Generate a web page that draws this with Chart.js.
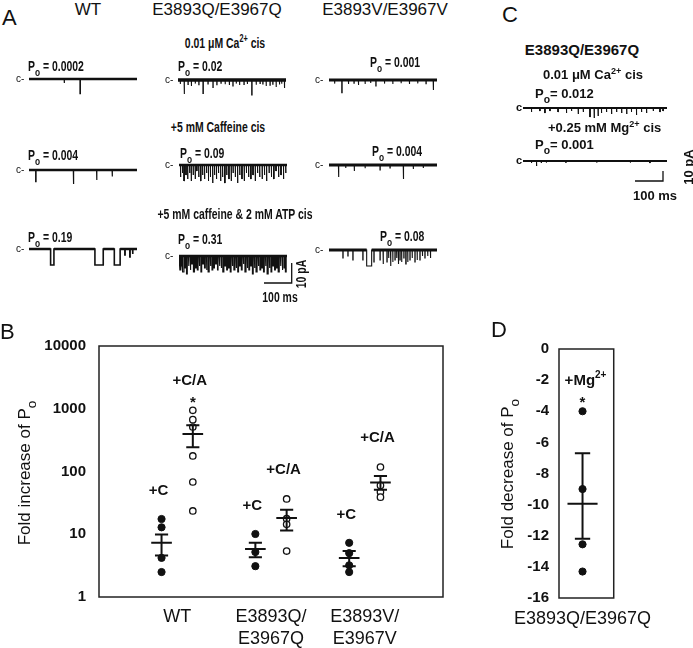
<!DOCTYPE html>
<html>
<head>
<meta charset="utf-8">
<script src="https://cdn.jsdelivr.net/npm/chart.js@4.4.0/dist/chart.umd.min.js"></script>
<style>
body { margin: 0; background: #fff; }
#page { position: relative; width: 693px; height: 648px; overflow: hidden; font-family: "Liberation Sans", Arial, sans-serif; color: #111; }
.t { position: absolute; line-height: 1; white-space: nowrap; }
.c { transform: translateX(-50%); }
.nb { font-weight: bold; font-size: 14.5px; transform: scaleX(0.72); transform-origin: 0 0; }
.nb.c { transform: translateX(-50%) scaleX(0.72); transform-origin: 50% 0; }
.nb.rot { transform: translate(-50%, -50%) rotate(-90deg) scaleX(0.72); transform-origin: 50% 50%; }
.hd { font-size: 17px; }
.let { font-size: 22px; }
.cb { font-weight: bold; font-size: 13px; }
.sm { font-size: 10px; }
sub { font-size: 0.8em; vertical-align: -0.45em; line-height: 0; }
sup { font-size: 0.7em; vertical-align: 0.55em; line-height: 0; }
.rot { transform: translate(-50%, -50%) rotate(-90deg); }
canvas { position: absolute; }
</style>
</head>
<body>
<div id="page">
  <!-- panel A traces -->
  <canvas id="wtCa" width="108" height="34" style="left:29px;top:71px"></canvas>
  <canvas id="wtCaf" width="108" height="34" style="left:29px;top:162px"></canvas>
  <canvas id="wtAtp" width="108" height="34" style="left:29px;top:241px"></canvas>
  <canvas id="qCa" width="108" height="34" style="left:178px;top:72px"></canvas>
  <canvas id="qCaf" width="108" height="34" style="left:179px;top:157px"></canvas>
  <canvas id="qAtp" width="108" height="34" style="left:179px;top:248px"></canvas>
  <canvas id="vCa" width="108" height="34" style="left:329px;top:72px"></canvas>
  <canvas id="vCaf" width="108" height="34" style="left:329px;top:157px"></canvas>
  <canvas id="vAtp" width="108" height="34" style="left:329px;top:242px"></canvas>
  <canvas id="barA" width="30" height="36" style="left:264px;top:255px"></canvas>
  <!-- panel C traces -->
  <canvas id="cCa" width="144" height="24" style="left:523px;top:101px"></canvas>
  <canvas id="cMg" width="144" height="24" style="left:523px;top:154px"></canvas>
  <canvas id="barC" width="32" height="16" style="left:635px;top:168px"></canvas>
  <!-- panels B and D -->
  <canvas id="chartB" width="480" height="348" style="left:0px;top:300px"></canvas>
  <canvas id="chartD" width="213" height="348" style="left:480px;top:300px"></canvas>

  <div class="t let" style="left:2px;top:7px">A</div>
  <div class="t hd c" style="left:88px;top:1px">WT</div>
  <div class="t hd c" style="left:217px;top:1px">E3893Q/E3967Q</div>
  <div class="t hd c" style="left:385px;top:1px">E3893V/E3967V</div>
  <div class="t nb c" style="left:225px;top:36px">0.01 μM Ca<sup>2+</sup> cis</div>
  <div class="t nb c" style="left:218px;top:120px">+5 mM Caffeine cis</div>
  <div class="t nb c" style="left:235px;top:207px">+5 mM caffeine &amp; 2 mM ATP cis</div>

  <div class="t nb" style="left:28px;top:59px">P<sub>o</sub> = 0.0002</div>
  <div class="t nb" style="left:178px;top:59px">P<sub>o</sub> = 0.02</div>
  <div class="t nb" style="left:370px;top:55px">P<sub>o</sub> = 0.001</div>
  <div class="t nb" style="left:28px;top:148px">P<sub>o</sub> = 0.004</div>
  <div class="t nb" style="left:180px;top:146px">P<sub>o</sub> = 0.09</div>
  <div class="t nb" style="left:372px;top:144px">P<sub>o</sub> = 0.004</div>
  <div class="t nb" style="left:28px;top:230px">P<sub>o</sub> = 0.19</div>
  <div class="t nb" style="left:178px;top:232px">P<sub>o</sub> = 0.31</div>
  <div class="t nb" style="left:380px;top:229px">P<sub>o</sub> = 0.08</div>

  <div class="t sm" style="left:16px;top:74px">c-</div>
  <div class="t sm" style="left:165px;top:75px">c-</div>
  <div class="t sm" style="left:315px;top:75px">c-</div>
  <div class="t sm" style="left:16px;top:165px">c-</div>
  <div class="t sm" style="left:165px;top:160px">c-</div>
  <div class="t sm" style="left:315px;top:160px">c-</div>
  <div class="t sm" style="left:16px;top:244px">c-</div>
  <div class="t sm" style="left:165px;top:251px">c-</div>
  <div class="t sm" style="left:315px;top:245px">c-</div>

  <div class="t nb rot" style="left:301px;top:274px">10 pA</div>
  <div class="t nb c" style="left:280px;top:290px">100 ms</div>

  <div class="t let" style="left:502px;top:4px">C</div>
  <div class="t cb c" style="left:582px;top:42px;font-size:15px">E3893Q/E3967Q</div>
  <div class="t cb" style="left:543px;top:68px">0.01 μM Ca<sup>2+</sup> cis</div>
  <div class="t cb" style="left:535px;top:87px">P<sub>o</sub>= 0.012</div>
  <div class="t cb" style="left:516px;top:102px;font-size:11px">c</div>
  <div class="t cb" style="left:548px;top:121px">+0.25 mM Mg<sup>2+</sup> cis</div>
  <div class="t cb" style="left:535px;top:138px">P<sub>o</sub>= 0.001</div>
  <div class="t cb" style="left:516px;top:155px;font-size:11px">c</div>
  <div class="t cb rot" style="left:688px;top:167px;font-size:13px">10 pA</div>
  <div class="t cb" style="left:633px;top:189px">100 ms</div>

  <div class="t let" style="left:0px;top:321px">B</div>
  <div class="t rot" style="left:24px;top:473px;font-size:17px">Fold increase of P<sub>o</sub></div>
  <div class="t let" style="left:491px;top:319px">D</div>
  <div class="t rot" style="left:507px;top:474px;font-size:17px">Fold decrease of P<sub>o</sub></div>
</div>
<script>
Chart.defaults.font.family = "'Liberation Sans', Arial, sans-serif";
Chart.defaults.color = '#111';

// single channel openings: [start ms, duration ms, depth pA]
const wtCaEvents = [[127, 1, 2], [184, 1.5, 7.3]];
const wtCafEvents = [[24, 1.5, 5.8], [160, 1.5, 7], [244, 1.2, 5], [300, 1.2, 3.3]];
const wtAtpEvents = [[78, 12, 8], [238, 30, 8], [308, 21, 8], [346, 1, 3], [364, 1, 4], [374, 1, 2.5]];

const qCaEvents = [[8, 1, 2], [22, 1.5, 7], [36, 1, 2.2], [48, 1, 3], [62, 1, 1.8], [75, 1, 2.4], [90, 1.5, 6.7],
  [108, 1, 2], [126, 1, 3.7], [140, 1, 2.3], [155, 1, 1.6], [170, 1, 2.1], [185, 1, 2.5], [198, 1, 3],
  [210, 1, 1.8], [222, 1, 2.5], [238, 1, 2.2], [250, 1, 2], [266, 1.5, 7.5], [282, 1, 2.4], [296, 1, 1.7],
  [306, 1, 2], [318, 1, 3], [332, 1, 2.6], [342, 1, 2.1], [354, 1, 3.5], [366, 1, 2.3], [374, 1, 1.9], [384, 1, 4]];
const qCafEvents = [[5, 1.5, 6], [12, 1, 4], [18, 1.5, 8], [25, 1, 5], [31, 1, 7], [38, 1.5, 4], [44, 1, 8],
  [51, 1, 5], [58, 1.5, 7], [64, 1, 3], [71, 1, 6], [78, 1.5, 8], [85, 1, 5], [92, 1, 7], [99, 1.5, 4],
  [106, 1, 8], [113, 1, 6], [121, 1.5, 9], [128, 1, 5], [135, 1, 7], [142, 1.5, 4], [150, 1, 8], [157, 1, 6],
  [165, 1.5, 9], [172, 1, 5], [180, 1, 7], [188, 1.5, 8], [195, 1, 4], [203, 1, 6], [211, 1.5, 9], [219, 1, 5],
  [227, 1, 7], [235, 1.5, 8], [243, 1, 4], [251, 1, 6], [259, 1.5, 7], [267, 1, 5], [275, 1, 8], [283, 1.5, 4],
  [291, 1, 6], [300, 1, 7], [308, 1.5, 5], [316, 1, 8], [325, 1, 4], [333, 1.5, 6], [342, 1, 7], [350, 1, 3],
  [359, 1.5, 6], [368, 1, 5], [377, 1, 7], [385, 1, 4]];
const qAtpEvents = [[3, 3, 7], [9, 2, 5], [14, 4, 8], [21, 2, 6], [27, 3, 9], [34, 2, 5], [40, 3, 7], [46, 2, 4],
  [52, 4, 8], [60, 2, 6], [66, 3, 7], [73, 2, 5], [79, 3, 8], [86, 2, 4], [92, 3, 6], [99, 2, 7], [105, 4, 8],
  [113, 2, 5], [119, 3, 7], [126, 2, 6], [132, 3, 4], [139, 2, 7], [145, 3, 5], [152, 2, 6], [158, 4, 8],
  [166, 2, 5], [172, 3, 7], [179, 2, 6], [185, 3, 8], [192, 2, 5], [198, 4, 7], [206, 2, 6], [212, 3, 8],
  [219, 2, 5], [225, 3, 7], [232, 2, 4], [238, 4, 8], [246, 2, 6], [252, 3, 7], [259, 2, 5], [265, 3, 9],
  [272, 2, 6], [278, 4, 8], [286, 2, 5], [292, 3, 7], [299, 2, 6], [305, 3, 8], [312, 2, 5], [318, 4, 9],
  [326, 2, 6], [332, 3, 8], [339, 2, 5], [345, 3, 7], [352, 2, 6], [358, 4, 8], [366, 2, 5], [372, 3, 7],
  [379, 2, 6], [384, 3, 8]];

const vCaEvents = [[20, 1, 1.8], [46, 1.5, 6.3], [70, 1, 2], [90, 1, 1.6], [106, 1, 2.5], [130, 1, 2],
  [150, 1, 1.5], [169, 1, 3], [200, 1, 1.8], [230, 1, 2], [260, 1, 1.6], [290, 1, 2], [320, 1, 1.7],
  [350, 1, 1.8], [376, 1.5, 5]];
const vCafEvents = [[34, 1.5, 6], [60, 1, 1.5], [91, 1, 3], [130, 1, 1.6], [184, 1, 2.5], [220, 1, 1.5],
  [268, 1.5, 7], [304, 1, 2], [340, 1, 1.5]];
const vAtpEvents = [[50, 1, 4], [68, 1, 3], [86, 1, 5], [122, 1, 5], [136, 18, 8], [162, 1, 6], [184, 1, 5],
  [195, 1.5, 7], [209, 1, 6], [215, 1, 4], [222, 1.5, 8], [230, 1, 6], [238, 1, 5], [244, 1, 4], [250, 1.5, 7],
  [256, 1, 5], [262, 1, 6], [270, 1, 4], [277, 1.5, 7], [284, 1, 6], [292, 1, 5], [300, 1, 4], [310, 1, 6],
  [318, 1, 5], [328, 1, 5], [337, 1, 3], [346, 1, 4], [356, 1, 3], [366, 1, 4]];

const cCaEvents = [[30, 1, 4], [60, 1, 3], [78, 1, 5], [96, 1, 3], [125, 1, 4], [155, 1, 5], [173, 1, 3],
  [197, 1, 6], [215, 1, 4], [239, 1, 9], [254, 1, 10], [268, 1, 8], [280, 1, 5], [298, 1, 4], [316, 1, 6],
  [334, 1, 4], [352, 1, 5], [370, 1, 6], [387, 1, 4], [405, 1, 7], [423, 1, 4], [441, 1, 5], [465, 1, 3],
  [489, 1, 4], [500, 1, 3]];
const cMgEvents = [[30, 1, 2], [48, 1, 5], [65, 1, 2], [83, 1, 1.5], [153, 1, 1.5], [263, 1, 1.5], [383, 1, 1.5], [453, 1, 2]];

const scaleBarMs = 100;
const scaleBarPA = 10;

// panel B: fold increase of Po
const groupLabels = [['WT'], ['E3893Q/', 'E3967Q'], ['E3893V/', 'E3967V']];
const bTicks = [1, 10, 100, 1000, 10000];
const caffeinePo = [[17.5, 12.9, 4.2, 2.5], [10.1, 5.2, 3.1], [7.3, 5.0, 3.2, 2.5]];
const caffeineMean = [7.3, 5.8, 4.2];
const caffeineHigh = [9.9, 7.3, 5.4];
const caffeineLow = [4.6, 4.3, 3.1];
const atpPo = [[944, 670, 512, 177, 68, 23.5], [36.5, 17.7, 14.4, 5.4], [118, 60, 47, 39]];
const atpMean = [396, 18.2, 67];
const atpHigh = [544, 24.6, 85];
const atpLow = [243, 11.5, 51];
const atpStar = [true, false, false];

// panel D: fold decrease of Po with Mg2+
const dLabel = 'E3893Q/E3967Q';
const dTicks = [0, -2, -4, -6, -8, -10, -12, -14, -16];
const magnesiumPo = [-4.0, -9.0, -12.55, -14.3];
const magnesiumMean = -9.95;
const magnesiumHigh = -6.7;
const magnesiumLow = -12.2;

const msPerPxA = 100 / 27.7;
const msPerPxC = 100 / 28;

function tracePoints(events, total) {
  const pts = [{ x: 0, y: 0 }];
  events.slice().sort((a, b) => a[0] - b[0]).forEach(([t, d, a]) => {
    pts.push({ x: t, y: 0 }, { x: t, y: -a }, { x: t + d, y: -a }, { x: t + d, y: 0 });
  });
  pts.push({ x: total, y: 0 });
  return pts;
}

// noisy closed level: thick line, broken where the channel stays open
function basePoints(events, total) {
  const pts = [{ x: 0, y: 0 }];
  events.slice().sort((a, b) => a[0] - b[0]).forEach(([t, d]) => {
    if (d > 5) pts.push({ x: t, y: 0 }, { x: t, y: null }, { x: t + d, y: 0 });
  });
  pts.push({ x: total, y: 0 });
  return pts;
}

function drawTrace(id, events, msPerPx, yMin, yMax, noiseWidth, spikeWidth) {
  const canvas = document.getElementById(id);
  const total = canvas.width * msPerPx;
  const datasets = [{ data: tracePoints(events, total), borderColor: '#111', borderWidth: spikeWidth, pointRadius: 0, tension: 0, fill: false }];
  if (noiseWidth) {
    datasets.push({ data: basePoints(events, total), borderColor: '#111', borderWidth: noiseWidth, pointRadius: 0, tension: 0, fill: false });
  }
  new Chart(canvas, {
    type: 'line',
    data: { datasets },
    options: {
      responsive: false, animation: false, events: [], devicePixelRatio: 1,
      layout: { padding: 0 },
      plugins: { legend: { display: false }, tooltip: { enabled: false } },
      scales: {
        x: { type: 'linear', min: 0, max: total, display: false },
        y: { min: yMin, max: yMax, display: false }
      }
    }
  });
}

drawTrace('wtCa', wtCaEvents, msPerPxA, -13, 4, 2.6, 1.2);
drawTrace('wtCaf', wtCafEvents, msPerPxA, -13, 4, 2.6, 1.2);
drawTrace('wtAtp', wtAtpEvents, msPerPxA, -13, 4, 2.4, 1.6);
drawTrace('qCa', qCaEvents, msPerPxA, -13, 4, 3.6, 1.1);
drawTrace('qCaf', qCafEvents, msPerPxA, -13, 4, 2.6, 1);
drawTrace('qAtp', qAtpEvents, msPerPxA, -13, 4, 2.6, 1.1);
drawTrace('vCa', vCaEvents, msPerPxA, -13, 4, 3.2, 1.1);
drawTrace('vCaf', vCafEvents, msPerPxA, -13, 4, 3, 1.1);
drawTrace('vAtp', vAtpEvents, msPerPxA, -13, 4, 2.8, 1.1);

drawTrace('cCa', cCaEvents, msPerPxC, -17, 7, 2, 1);
drawTrace('cMg', cMgEvents, msPerPxC, -17, 7, 2, 1);

// scale bars, same ms/pA scaling as the traces
function drawScaleBar(id, msPerPx, yMin, yMax) {
  const canvas = document.getElementById(id);
  new Chart(canvas, {
    type: 'line',
    data: { datasets: [{ data: [{ x: 0, y: 0 }, { x: scaleBarMs, y: 0 }, { x: scaleBarMs, y: scaleBarPA }], borderColor: '#111', borderWidth: 1.3, pointRadius: 0, tension: 0 }] },
    options: {
      responsive: false, animation: false, events: [], devicePixelRatio: 1,
      layout: { padding: 0 },
      plugins: { legend: { display: false }, tooltip: { enabled: false } },
      scales: {
        x: { type: 'linear', min: 0, max: canvas.width * msPerPx, display: false },
        y: { min: yMin, max: yMax, display: false }
      }
    }
  });
}
drawScaleBar('barA', msPerPxA, -4, 14);
drawScaleBar('barC', msPerPxC, -3, 13);

function errorBar(x, mean, hi, lo, halfBar, halfCap) {
  return [
    { x: x - halfBar, y: mean }, { x: x + halfBar, y: mean }, { x: x, y: null },
    { x: x, y: hi }, { x: x, y: lo }, { x: x, y: null },
    { x: x - halfCap, y: hi }, { x: x + halfCap, y: hi }, { x: x, y: null },
    { x: x - halfCap, y: lo }, { x: x + halfCap, y: lo }
  ];
}

const framePlugin = {
  id: 'frame',
  afterDatasetsDraw(chart) {
    const { ctx, chartArea: a } = chart;
    ctx.save();
    ctx.strokeStyle = '#222';
    ctx.lineWidth = 1.5;
    ctx.strokeRect(a.left, a.top, a.right - a.left, a.bottom - a.top);
    ctx.restore();
  }
};

const bLabelPlugin = {
  id: 'bLabels',
  afterDatasetsDraw(chart) {
    const { ctx, scales: { x, y } } = chart;
    ctx.save();
    ctx.fillStyle = '#111';
    ctx.font = "bold 15px 'Liberation Sans', Arial, sans-serif";
    ctx.textAlign = 'center';
    groupLabels.forEach((g, i) => {
      const cTop = y.getPixelForValue(Math.max(...caffeinePo[i]));
      ctx.fillText('+C', x.getPixelForValue(i * 3 + 2) - 3, cTop - 24);
      const aTop = y.getPixelForValue(Math.max(...atpPo[i]));
      ctx.fillText('+C/A', x.getPixelForValue(i * 3 + 3) - 3, aTop - 25);
      if (atpStar[i]) ctx.fillText('*', x.getPixelForValue(i * 3 + 3), aTop - 3);
    });
    ctx.restore();
  }
};

const bDatasets = [];
groupLabels.forEach((g, i) => {
  bDatasets.push({
    data: caffeinePo[i].map(v => ({ x: i * 3 + 2, y: v })),
    pointRadius: 3.6, backgroundColor: '#111', borderColor: '#111', borderWidth: 1, order: 2
  });
  bDatasets.push({
    data: atpPo[i].map(v => ({ x: i * 3 + 3, y: v })),
    pointRadius: 3.2, backgroundColor: '#fff', borderColor: '#111', borderWidth: 1.3, order: 2
  });
  bDatasets.push({
    data: errorBar(i * 3 + 2, caffeineMean[i], caffeineHigh[i], caffeineLow[i], 0.33, 0.21),
    showLine: true, pointRadius: 0, borderColor: '#111', borderWidth: 2, order: 1
  });
  bDatasets.push({
    data: errorBar(i * 3 + 3, atpMean[i], atpHigh[i], atpLow[i], 0.33, 0.21),
    showLine: true, pointRadius: 0, borderColor: '#111', borderWidth: 2, order: 1
  });
});

new Chart(document.getElementById('chartB'), {
  type: 'scatter',
  data: { datasets: bDatasets },
  options: {
    responsive: false, animation: false, events: [], devicePixelRatio: 1,
    layout: { padding: { left: 0, right: 37, top: 46, bottom: 0 } },
    plugins: { legend: { display: false }, tooltip: { enabled: false } },
    scales: {
      x: {
        type: 'linear', min: 0, max: 11,
        grid: { display: false, drawTicks: false }, border: { display: false },
        afterBuildTicks: s => { s.ticks = groupLabels.map((g, i) => ({ value: i * 3 + 2.5 })); },
        afterFit: s => { s.height = 51; },
        ticks: { callback: (v, i) => groupLabels[i], font: { size: 18, lineHeight: 1.17 }, padding: 10, maxRotation: 0, autoSkip: false, color: '#111' }
      },
      y: {
        type: 'logarithmic', min: 1, max: 10000,
        grid: { display: false, drawTicks: false }, border: { display: false },
        afterBuildTicks: s => { s.ticks = bTicks.map(v => ({ value: v })); },
        afterFit: s => { s.width = 99; },
        ticks: { callback: v => String(v), font: { size: 15, weight: 'bold' }, padding: 13, color: '#111' }
      }
    }
  },
  plugins: [framePlugin, bLabelPlugin]
});

const dPos = 0.43;
const dLabelPlugin = {
  id: 'dLabels',
  afterDatasetsDraw(chart) {
    const { ctx, scales: { x, y } } = chart;
    const px = x.getPixelForValue(dPos);
    const top = y.getPixelForValue(Math.max(...magnesiumPo));
    ctx.save();
    ctx.fillStyle = '#111';
    ctx.font = "bold 15px 'Liberation Sans', Arial, sans-serif";
    const w1 = ctx.measureText('+Mg').width;
    ctx.font = "bold 10px 'Liberation Sans', Arial, sans-serif";
    const w2 = ctx.measureText('2+').width;
    const start = px + 3 - (w1 + w2) / 2;
    ctx.textAlign = 'left';
    ctx.font = "bold 15px 'Liberation Sans', Arial, sans-serif";
    ctx.fillText('+Mg', start, top - 26);
    ctx.font = "bold 10px 'Liberation Sans', Arial, sans-serif";
    ctx.fillText('2+', start + w1, top - 33);
    ctx.font = "bold 15px 'Liberation Sans', Arial, sans-serif";
    ctx.textAlign = 'center';
    ctx.fillText('*', px, top - 4);
    ctx.restore();
  }
};

new Chart(document.getElementById('chartD'), {
  type: 'scatter',
  data: {
    datasets: [
      { data: magnesiumPo.map(v => ({ x: dPos, y: v })), pointRadius: 3.6, backgroundColor: '#111', borderColor: '#111', borderWidth: 1, order: 2 },
      { data: errorBar(dPos, magnesiumMean, magnesiumHigh, magnesiumLow, 0.275, 0.14), showLine: true, pointRadius: 0, borderColor: '#111', borderWidth: 2, order: 1 }
    ]
  },
  options: {
    responsive: false, animation: false, events: [], devicePixelRatio: 1,
    layout: { padding: { left: 0, right: 56, top: 49, bottom: 0 } },
    plugins: { legend: { display: false }, tooltip: { enabled: false } },
    scales: {
      x: {
        type: 'linear', min: 0, max: 1,
        grid: { display: false, drawTicks: false }, border: { display: false },
        afterBuildTicks: s => { s.ticks = [{ value: dPos }]; },
        afterFit: s => { s.height = 50; },
        ticks: { callback: () => dLabel, font: { size: 18 }, padding: 10, maxRotation: 0, autoSkip: false, color: '#111' }
      },
      y: {
        type: 'linear', min: -16, max: 0,
        grid: { display: false, drawTicks: false }, border: { display: false },
        afterBuildTicks: s => { s.ticks = dTicks.map(v => ({ value: v })); },
        afterFit: s => { s.width = 79; },
        ticks: { callback: v => String(v), font: { size: 15, weight: 'bold' }, padding: 10, color: '#111' }
      }
    }
  },
  plugins: [framePlugin, dLabelPlugin]
});
</script>
</body>
</html>
